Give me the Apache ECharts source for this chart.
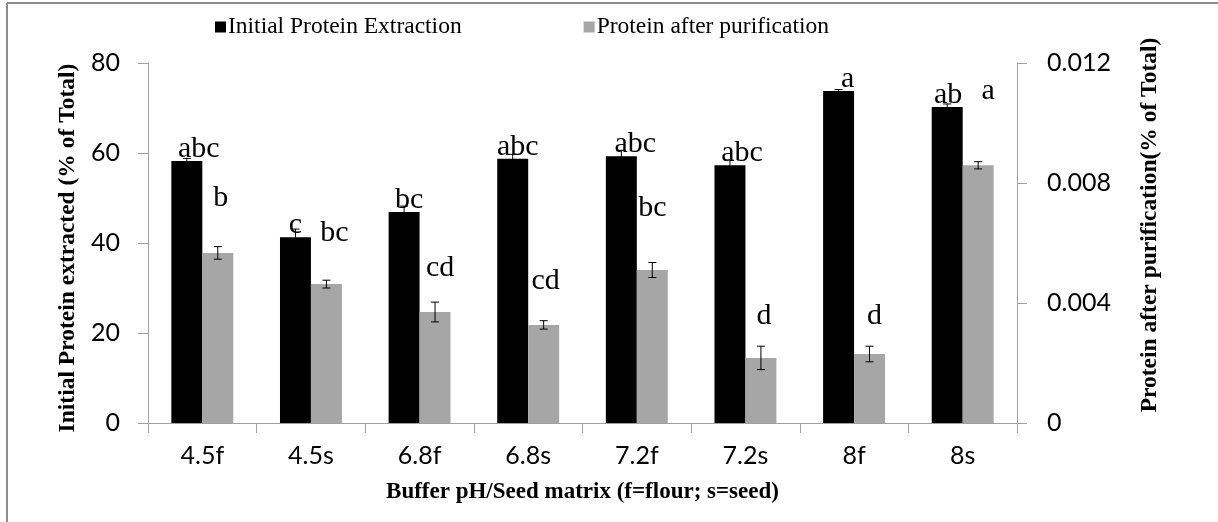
<!DOCTYPE html>
<html>
<head>
<meta charset="utf-8">
<script src="https://cdn.jsdelivr.net/npm/echarts@6/dist/echarts.min.js"></script>
<style>
html,body{margin:0;padding:0;background:#fff;}
#chart{width:1218px;height:522px;}
</style>
</head>
<body>
<div id="chart"></div>
<script>
// ---- data ----
const categories = ['4.5f','4.5s','6.8f','6.8s','7.2f','7.2s','8f','8s'];
const initialProtein = [58.2, 41.3, 46.9, 58.7, 59.3, 57.3, 73.8, 70.2];
const initialError   = [0.6, 1.8, 1.3, 1.0, 1.3, 1.1, 0.3, 0.7];
const initialLetters = ['abc','c','bc','abc','abc','abc','a','ab'];
const purifiedProtein = [0.00567, 0.00463, 0.0037, 0.00327, 0.0051, 0.00217, 0.0023, 0.00859];
const purifiedError   = [0.00021, 0.00013, 0.00033, 0.00014, 0.00025, 0.00039, 0.00026, 0.00012];
const purifiedLetters = ['b','bc','cd','cd','bc','d','d','a'];
const leftTicks = [0, 20, 40, 60, 80];
const rightTicks = [0, 0.004, 0.008, 0.012];

// ---- layout / style (label placement, not data) ----
const grayLabelDistance = [40, 36, 29, 29, 47, 27, 23, 59];
const blackLabelShiftX = [12, 0, 5, 5, 14, 12, 9, 1];
const grayLabelShiftX = [3, 8, 5, 2, 0, 3, 5, 10];
const BAR_FRAC = 0.285;
const serif = '"Liberation Serif", "Times New Roman", serif';
const sans = 'Lato, "Open Sans", sans-serif';
const axisGray = '#a0a0a0';

const chart = echarts.init(document.getElementById('chart'));

function errorSeries(name, values, errors, side, yIdx) {
  return {
    type: 'custom',
    name: name + ' error',
    yAxisIndex: yIdx,
    silent: true,
    z: 5,
    data: values.map((v, i) => [i, v, errors[i]]),
    renderItem: function (params, api) {
      const i = api.value(0), v = api.value(1), e = api.value(2);
      const band = api.size([1, 0])[0];
      const bw = band * BAR_FRAC;
      const c = api.coord([i, v]);
      const hi = api.coord([i, v + e]);
      const lo = api.coord([i, v - e]);
      const cx = c[0] + side * bw / 2;
      const cap = 4;
      const st = { stroke: '#000', lineWidth: 1 };
      return {
        type: 'group',
        children: [
          { type: 'line', shape: { x1: cx, y1: hi[1], x2: cx, y2: lo[1] }, style: st },
          { type: 'line', shape: { x1: cx - cap, y1: hi[1], x2: cx + cap, y2: hi[1] }, style: st },
          { type: 'line', shape: { x1: cx - cap, y1: lo[1], x2: cx + cap, y2: lo[1] }, style: st }
        ]
      };
    }
  };
}

const option = {
  animation: false,
  backgroundColor: '#fff',
  graphic: [
    { type: 'line', shape: { x1: 7, y1: 3, x2: 1218, y2: 3 }, style: { stroke: '#8c8c8c', lineWidth: 2 } },
    { type: 'line', shape: { x1: 7, y1: 3, x2: 7, y2: 522 }, style: { stroke: '#8c8c8c', lineWidth: 2 } }
  ],
  legend: {
    left: 210,
    top: 10,
    itemWidth: 11,
    itemHeight: 11,
    itemGap: 122,
    icon: 'rect',
    textStyle: { fontFamily: serif, fontSize: 23.5, color: '#000', padding: [0, 0, 0, -3] },
    data: ['Initial Protein Extraction', 'Protein after purification']
  },
  grid: { left: 148, right: 201, top: 63, bottom: 99 },
  xAxis: {
    type: 'category',
    data: categories,
    axisLine: { lineStyle: { color: axisGray, width: 1 } },
    axisTick: { show: true, length: 10, lineStyle: { color: axisGray } },
    axisLabel: { fontFamily: sans, fontSize: 25, color: '#000', margin: 20 },
    name: 'Buffer pH/Seed matrix (f=flour; s=seed)',
    nameLocation: 'middle',
    nameGap: 58,
    nameTextStyle: { fontFamily: serif, fontWeight: 'bold', fontSize: 23, color: '#000' }
  },
  yAxis: [
    {
      type: 'value',
      min: leftTicks[0], max: leftTicks[leftTicks.length - 1], interval: leftTicks[1] - leftTicks[0],
      position: 'left',
      splitLine: { show: false },
      axisLine: { show: true, lineStyle: { color: axisGray } },
      axisTick: { show: true, length: 10, lineStyle: { color: axisGray } },
      axisLabel: { fontFamily: sans, fontSize: 25, color: '#000', margin: 28 },
      name: 'Initial Protein extracted (% of Total)',
      nameLocation: 'middle',
      nameGap: 67,
      nameRotate: 90,
      nameTextStyle: { fontFamily: serif, fontWeight: 'bold', fontSize: 23.5, color: '#000', padding: [0, 10, 0, 0] }
    },
    {
      type: 'value',
      min: rightTicks[0], max: rightTicks[rightTicks.length - 1], interval: rightTicks[1] - rightTicks[0],
      position: 'right',
      splitLine: { show: false },
      axisLine: { show: true, lineStyle: { color: axisGray } },
      axisTick: { show: true, length: 10, lineStyle: { color: axisGray } },
      axisLabel: { fontFamily: sans, fontSize: 25, color: '#000', margin: 30,
        formatter: v => (v === 0 ? '0' : v.toFixed(3)) },
      name: 'Protein after purification(% of Total)',
      nameLocation: 'middle',
      nameGap: 121,
      nameRotate: 90,
      nameTextStyle: { fontFamily: serif, fontWeight: 'bold', fontSize: 23.5, color: '#000', padding: [0, 0, 0, 36] }
    }
  ],
  series: [
    {
      name: 'Initial Protein Extraction',
      type: 'bar',
      yAxisIndex: 0,
      barWidth: (BAR_FRAC * 100) + '%',
      barGap: '0%',
      itemStyle: { color: '#000' },
      data: initialProtein.map((v, i) => ({
        value: v,
        label: { formatter: initialLetters[i], offset: [blackLabelShiftX[i], 0] }
      })),
      label: {
        show: true, position: 'top', distance: -3,
        fontFamily: serif, fontSize: 30, color: '#000'
      }
    },
    {
      name: 'Protein after purification',
      type: 'bar',
      yAxisIndex: 1,
      barWidth: (BAR_FRAC * 100) + '%',
      barGap: '0%',
      itemStyle: { color: '#a6a6a6' },
      data: purifiedProtein.map((v, i) => ({
        value: v,
        label: { formatter: purifiedLetters[i], distance: grayLabelDistance[i], offset: [grayLabelShiftX[i], 0] }
      })),
      label: {
        show: true, position: 'top',
        fontFamily: serif, fontSize: 30, color: '#000'
      }
    },
    errorSeries('Initial Protein Extraction', initialProtein, initialError, -1, 0),
    errorSeries('Protein after purification', purifiedProtein, purifiedError, 1, 1)
  ]
};
chart.setOption(option);
</script>
</body>
</html>
